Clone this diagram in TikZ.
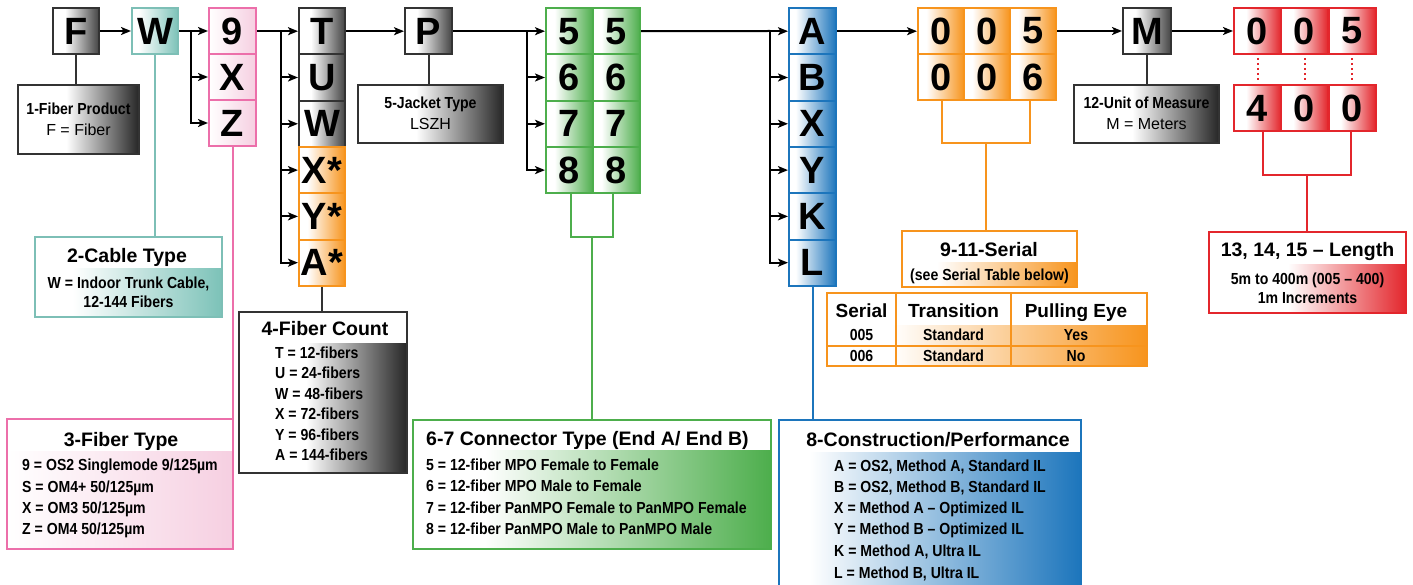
\documentclass[tikz,border=0pt]{standalone}
\usepackage{fontspec}
\setmainfont{Liberation Sans}
\newfontfamily\condf[FakeStretch=0.88]{Liberation Sans}
\usetikzlibrary{arrows.meta}
\definecolor{dgray}{HTML}{333333}
\definecolor{cellgray}{HTML}{444444}
\definecolor{tealc}{HTML}{7DBFB6}
\definecolor{tealf}{HTML}{7CC2B8}
\definecolor{pinkc}{HTML}{EC6FAA}
\definecolor{pinkf}{HTML}{F6CFE1}
\definecolor{orc}{HTML}{F7941D}
\definecolor{grc}{HTML}{4DAE4C}
\definecolor{blc}{HTML}{1C75BC}
\definecolor{redc}{HTML}{E3262C}
\newcommand\mkfade[3]{\pgfdeclarehorizontalshading{#1}{100bp}{color(0bp)=(white); color(#3)=(white); color(75bp)=(#2); color(100bp)=(#2)}}
\mkfade{cgray}{cellgray}{38bp}
\mkfade{cteal}{tealf}{32bp}
\mkfade{cpink}{pinkf}{25bp}
\mkfade{corange}{orc}{34bp}
\mkfade{cgreen}{grc}{34bp}
\mkfade{cblue}{blc}{32bp}
\mkfade{cred}{redc}{38bp}
\mkfade{lgray}{black!85}{45bp}
\mkfade{lteal}{tealf}{35bp}
\mkfade{lpink}{pinkf}{25bp}
\mkfade{lgreen}{grc}{35bp}
\mkfade{lblue}{blc}{30bp}
\mkfade{lorange}{orc}{35bp}
\mkfade{lred}{redc}{45bp}
\mkfade{ltab}{orc}{35bp}
\tikzset{
  conn/.style={line width=2pt, draw=black},
  arr/.style={conn, -{Stealth[length=10pt,width=8pt,inset=2.5pt]}},
  cell/.style={draw, line width=2pt, inner sep=0pt, minimum width=46pt, minimum height=46.3pt,
    font=\fontsize{38}{38}\selectfont\bfseries},
  gcell/.style={cell, draw=dgray, shading=cgray},
  tcell/.style={cell, draw=tealc, shading=cteal},
  pcell/.style={cell, draw=pinkc, shading=cpink, minimum width=47pt, minimum height=46pt},
  ocell/.style={cell, draw=orc, shading=corange},
  grcell/.style={cell, draw=grc, shading=cgreen, minimum width=47pt},
  bcell/.style={cell, draw=blc, shading=cblue, minimum width=47pt},
  rcell/.style={cell, draw=redc, shading=cred, minimum width=47pt, minimum height=46pt},
  lbox/.style={draw, line width=2pt, inner sep=0pt},
  ttl/.style={font=\fontsize{19.5}{22}\selectfont\bfseries, inner sep=0pt, anchor=base},
  bdy/.style={font=\condf\fontsize{16}{19}\selectfont\bfseries, inner sep=0pt, anchor=base},
  rgl/.style={font=\fontsize{16}{19}\selectfont, inner sep=0pt, anchor=base},
  reddots/.style={draw=redc, line width=2pt, dash pattern=on 2pt off 3pt},
}
\begin{document}
\begin{tikzpicture}[x=1pt,y=-1pt]
\useasboundingbox (0,0) rectangle (1413,585);
% ---------- top row cells ----------
\node[gcell] (F) at (76,31) {F};
\node[tcell] (W) at (155,31) {W};
\node[pcell] (p1) at (232.5,31) {9};
\node[pcell] (p2) at (232.5,77) {X};
\node[pcell] (p3) at (232.5,123) {Z};
\node[gcell] (c1) at (322,31.2) {T};
\node[gcell] (c2) at (322,77.5) {U};
\node[gcell] (c3) at (322,123.8) {W};
\node[ocell] (c4) at (322,170.1) {X*};
\node[ocell] (c5) at (322,216.4) {Y*};
\node[ocell] (c6) at (322,262.7) {A*};
\node[gcell, minimum width=47pt] (P) at (428.5,31) {P};
\node[grcell] (ga1) at (569.5,31.2) {5};
\node[grcell] (gb1) at (616.5,31.2) {5};
\node[grcell] (ga2) at (569.5,77.5) {6};
\node[grcell] (gb2) at (616.5,77.5) {6};
\node[grcell] (ga3) at (569.5,123.8) {7};
\node[grcell] (gb3) at (616.5,123.8) {7};
\node[grcell] (ga4) at (569.5,170.1) {8};
\node[grcell] (gb4) at (616.5,170.1) {8};
\node[bcell] (b1) at (812.5,31.2) {A};
\node[bcell] (b2) at (812.5,77.5) {B};
\node[bcell] (b3) at (812.5,123.8) {X};
\node[bcell] (b4) at (812.5,170.1) {Y};
\node[bcell] (b5) at (812.5,216.4) {K};
\node[bcell] (b6) at (812.5,262.7) {L};
\node[ocell, minimum height=46pt] (o11) at (941,31) {0};
\node[ocell, minimum height=46pt] (o12) at (987,31) {0};
\node[ocell, minimum height=46pt] (o13) at (1033,31) {5};
\node[ocell, minimum height=46pt] (o21) at (941,77) {0};
\node[ocell, minimum height=46pt] (o22) at (987,77) {0};
\node[ocell, minimum height=46pt] (o23) at (1033,77) {6};
\node[gcell, minimum width=48pt, minimum height=46pt] (M) at (1147,31) {M};
\node[rcell] (r11) at (1257.5,31) {0};
\node[rcell] (r12) at (1304.5,31) {0};
\node[rcell] (r13) at (1352,31) {5};
\node[rcell] (r21) at (1257.5,108) {4};
\node[rcell] (r22) at (1304.5,108) {0};
\node[rcell] (r23) at (1352,108) {0};
% ---------- main chain connectors ----------
\draw[arr] (F.east) -- (W.west);
\coordinate (k1) at (191,31);
\draw[conn] (W.east) -- (k1);
\draw[arr] (k1) |- (p1.west);
\draw[arr] (k1) |- (p2.west);
\draw[arr] (k1) |- (p3.west);
\coordinate (k2) at (281,31);
\draw[conn] (p1.east) -- (k2);
\foreach \n in {c1,c2,c3,c4,c5,c6} \draw[arr] (k2) |- (\n.west);
\draw[arr] (c1.east) -- (P.west |- c1.east);
\coordinate (k3) at (527,31);
\draw[conn] (P.east) -- (k3);
\foreach \n in {ga1,ga2,ga3,ga4} \draw[arr] (k3) |- (\n.west);
\coordinate (k4) at (770,31);
\draw[conn] (gb1.east) -- (k4);
\foreach \n in {b1,b2,b3,b4,b5,b6} \draw[arr] (k4) |- (\n.west);
\draw[arr] (b1.east) -- (o11.west |- b1.east);
\draw[arr] (o13.east) -- (M.west);
\draw[arr] (M.east) -- (r11.west);
\foreach \a/\b in {r11/r21,r12/r22,r13/r23} \draw[reddots] ([yshift=-3pt]\a.south) -- ([yshift=3pt]\b.north);
% ---------- legend boxes ----------
\node[lbox, draw=dgray, shading=lgray, minimum width=121pt, minimum height=69pt] (fp) at (78.5,119.5) {};
\node[lbox, draw=dgray, shading=lgray, minimum width=145pt, minimum height=58pt] (jk) at (430.5,114) {};
\node[lbox, draw=dgray, shading=lgray, minimum width=145pt, minimum height=58pt] (um) at (1146.5,114) {};
\node[lbox, draw=tealc, shading=lteal, minimum width=187pt, minimum height=80pt] (cab) at (128.5,277) {};
\node[lbox, draw=pinkc, shading=lpink, minimum width=226pt, minimum height=130pt] (fty) at (120,484) {};
\node[lbox, draw=dgray, shading=lgray, minimum width=168pt, minimum height=161pt] (fco) at (323,392.5) {};
\node[lbox, draw=grc, shading=lgreen, minimum width=358pt, minimum height=129pt] (ct) at (592,484.5) {};
\node[lbox, draw=blc, shading=lblue, minimum width=302pt, minimum height=180pt] (cons) at (930,510) {};
\node[lbox, draw=orc, shading=lorange, minimum width=175pt, minimum height=56pt] (ser) at (989.5,259) {};
\node[lbox, draw=redc, shading=lred, minimum width=197pt, minimum height=81pt] (len) at (1307.5,272.5) {};
% white title bands
\fill[white] (36,238) rectangle (221,268);
\fill[white] (8,420) rectangle (232,451);
\fill[white] (240,313) rectangle (406,343);
\fill[white] (414,421) rectangle (770,450);
\fill[white] (780,421) rectangle (1080,452);
\fill[white] (903,232) rectangle (1076,262);
\fill[white] (1210,233) rectangle (1405,264);
% ---------- legend connectors ----------
\draw[conn, draw=dgray] (F.south) -- (F.south |- fp.north);
\draw[conn, draw=dgray] (P.south) -- (P.south |- jk.north);
\draw[conn, draw=dgray] (M.south) -- (M.south |- um.north);
\draw[conn, draw=dgray] (c6.south) -- (c6.south |- fco.north);
\draw[conn, draw=tealc] (W.south) -- (W.south |- cab.north);
\draw[conn, draw=pinkc] (p3.south) -- (p3.south |- fty.north);
\draw[conn, draw=blc] (b6.south) -- (b6.south |- cons.north);
\coordinate (gm) at (592,237);
\draw[conn, draw=grc] ([xshift=1.5pt]ga4.south) |- (gm) -| ([xshift=-3.5pt]gb4.south);
\draw[conn, draw=grc] (gm) -- (gm |- ct.north);
\coordinate (om) at (986,143);
\draw[conn, draw=orc] ([xshift=1pt]o21.south) |- (om) -| ([xshift=-3pt]o23.south);
\draw[conn, draw=orc] (om) -- (om |- ser.north);
\coordinate (rm) at (1307,175);
\draw[conn, draw=redc] ([xshift=5.5pt]r21.south) |- (rm) -| ([xshift=-1pt]r23.south);
\draw[conn, draw=redc] (rm) -- (rm |- len.north);
% ---------- legend texts ----------
\node[bdy] (fpa) at (78.5,115) {1-Fiber Product};
\node[rgl] (fpb) at (78.5,136) {F = Fiber};
\node[bdy] (jka) at (430.5,109) {5-Jacket Type};
\node[rgl] (jkb) at (430.5,130) {LSZH};
\node[bdy] (uma) at (1146.5,109) {12-Unit of Measure};
\node[rgl] (umb) at (1146.5,130) {M = Meters};
\node[ttl] (caba) at (127,263) {2-Cable Type};
\node[bdy] (cabb) at (128.5,288) {W = Indoor Trunk Cable,};
\node[bdy] (cabc) at (128.5,307) {12-144 Fibers};
\node[ttl] (ftya) at (121,446) {3-Fiber Type};
\node[bdy, anchor=base west] (ftyb) at (22,470) {9 = OS2 Singlemode 9/125µm};
\node[bdy, anchor=base west] (ftyc) at (22,492) {S = OM4+ 50/125µm};
\node[bdy, anchor=base west] (ftyd) at (22,513) {X = OM3 50/125µm};
\node[bdy, anchor=base west] (ftye) at (22,534) {Z = OM4 50/125µm};
\node[ttl] (fcoa) at (325,335) {4-Fiber Count};
\node[bdy, anchor=base west] (fcob) at (275,358) {T = 12-fibers};
\node[bdy, anchor=base west] (fcoc) at (275,378) {U = 24-fibers};
\node[bdy, anchor=base west] (fcod) at (275,399) {W = 48-fibers};
\node[bdy, anchor=base west] (fcoe) at (275,419) {X = 72-fibers};
\node[bdy, anchor=base west] (fcof) at (275,440) {Y = 96-fibers};
\node[bdy, anchor=base west] (fcog) at (275,460) {A = 144-fibers};
\node[ttl, anchor=base west] (cta) at (426,445) {6-7 Connector Type (End A/ End B)};
\node[bdy, anchor=base west] (ctb) at (426,470) {5 = 12-fiber MPO Female to Female};
\node[bdy, anchor=base west] (ctc) at (426,491) {6 = 12-fiber MPO Male to Female};
\node[bdy, anchor=base west] (ctd) at (426,513) {7 = 12-fiber PanMPO Female to PanMPO Female};
\node[bdy, anchor=base west] (cte) at (426,534) {8 = 12-fiber PanMPO Male to PanMPO Male};
\node[ttl] (consa) at (938,446) {8-Construction/Performance};
\node[bdy, anchor=base west] (consb) at (834,471) {A = OS2, Method A, Standard IL};
\node[bdy, anchor=base west] (consc) at (834,492) {B = OS2, Method B, Standard IL};
\node[bdy, anchor=base west] (consd) at (834,513) {X = Method A – Optimized IL};
\node[bdy, anchor=base west] (conse) at (834,534) {Y = Method B – Optimized IL};
\node[bdy, anchor=base west] (consf) at (834,556) {K = Method A, Ultra IL};
\node[bdy, anchor=base west] (consg) at (834,578) {L = Method B, Ultra IL};
\node[ttl] (sera) at (989,257) {9-11-Serial};
\node[bdy] (serb) at (989.5,280) {(see Serial Table below)};
\node[ttl] (lena) at (1307.5,257) {13, 14, 15 – Length};
\node[bdy] (lenb) at (1307.5,284) {5m to 400m (005 – 400)};
\node[bdy] (lenc) at (1307.5,303) {1m Increments};
% ---------- serial table ----------
\shade[shading=ltab] (827,325) rectangle (1147,366);
\draw[orc, line width=2pt] (827,293) rectangle (1147,366);
\draw[orc, line width=2pt] (896,293) -- (896,366);
\draw[orc, line width=2pt] (1011,293) -- (1011,366);
\draw[orc, line width=2pt] (827,346) -- (1147,346);
\node[ttl, font=\fontsize{19}{22}\selectfont\bfseries] (tha) at (861.5,317) {Serial};
\node[ttl, font=\fontsize{19}{22}\selectfont\bfseries] (thb) at (953.5,317) {Transition};
\node[ttl, font=\fontsize{19}{22}\selectfont\bfseries] (thc) at (1076,317) {Pulling Eye};
\node[bdy] (t1a) at (861.5,340) {005};
\node[bdy] (t1b) at (953.5,340) {Standard};
\node[bdy] (t1c) at (1076,340) {Yes};
\node[bdy] (t2a) at (861.5,361) {006};
\node[bdy] (t2b) at (953.5,361) {Standard};
\node[bdy] (t2c) at (1076,361) {No};
\end{tikzpicture}
\end{document}
